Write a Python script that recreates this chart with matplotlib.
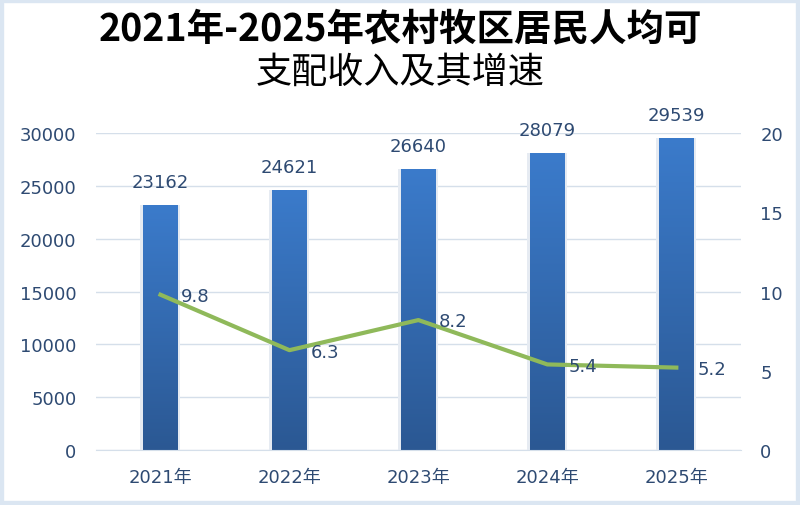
import matplotlib.pyplot as plt
import numpy as np
from matplotlib.patches import Rectangle
from matplotlib.colors import LinearSegmentedColormap

# datos
years = ['2021年', '2022年', '2023年', '2024年', '2025年']
income = [23162, 24621, 26640, 28079, 29539]
growth = [9.8, 6.3, 8.2, 5.4, 5.2]

plt.rcParams['font.family'] = ['DejaVu Sans', 'Noto Sans CJK SC']
txt_color = '#2e4a72'

fig = plt.figure(figsize=(8, 5.06), dpi=100)
fig.patch.set_facecolor('white')
# borde azul claro alrededor de la figura
fig.patches.append(Rectangle((0, 0), 1, 1, transform=fig.transFigure, fill=False,
                             edgecolor='#dbe6f2', linewidth=6))

ax = fig.add_axes([0.12, 0.1087, 0.806, 0.6263])
ax2 = ax.twinx()

x = np.arange(len(years))

# sombra de las barras
ax.bar(x, income, width=0.31, color='#e6ebf2', zorder=1)
bars = ax.bar(x, income, width=0.27, color='none', zorder=2)
cmap = LinearSegmentedColormap.from_list('g', ['#2b5893', '#3b7bcb'])
grad = np.linspace(0, 1, 256).reshape(-1, 1)
for b in bars:
    x0, w, h = b.get_x(), b.get_width(), b.get_height()
    im = ax.imshow(grad, extent=(x0, x0 + w, 0, h), aspect='auto', origin='lower',
                   cmap=cmap, zorder=2)
    im.set_clip_path(b)
ax.set_xlim(-0.5, len(years) - 0.5)
ax.set_ylim(0, 30000)
ax2.set_ylim(0, 20)

for xi, v in zip(x, income):
    ax.annotate(str(v), (xi, v), xytext=(0, 10), textcoords='offset points',
                ha='center', va='bottom', fontsize=13, color=txt_color)

ax2.plot(x, growth, color='#8fb95a', linewidth=3, zorder=3)
for xi, v in zip(x, growth):
    ax2.annotate(f'{v}', (xi, v), xytext=(15, -1), textcoords='offset points',
                 ha='left', va='center', fontsize=13, color=txt_color)

ax.set_yticks(np.arange(0, 30001, 5000))
ax2.set_yticks(np.arange(0, 21, 5))
ax.set_xticks(x)
ax.set_xticklabels(years)
ax.grid(axis='y', color='#d5dfea', linewidth=1)
ax.set_axisbelow(True)
for a in (ax, ax2):
    for s in a.spines.values():
        s.set_visible(False)
    a.tick_params(length=0, labelsize=13, labelcolor=txt_color)
ax.spines['bottom'].set_visible(True)
ax.spines['bottom'].set_color('#d5dfea')
ax.tick_params(axis='y', pad=14)
ax2.tick_params(axis='y', pad=14)
ax.tick_params(axis='x', pad=13)

fig.text(0.5, 0.942, '2021年-2025年农村牧区居民人均可', ha='center', va='center',
         fontsize=27, fontweight='bold', family=['Noto Sans CJK SC'], color='black')
fig.text(0.5, 0.857, '支配收入及其增速', ha='center', va='center',
         fontsize=26, family=['Noto Sans CJK SC'], color='black')

fig.savefig('out.png', dpi=100)
